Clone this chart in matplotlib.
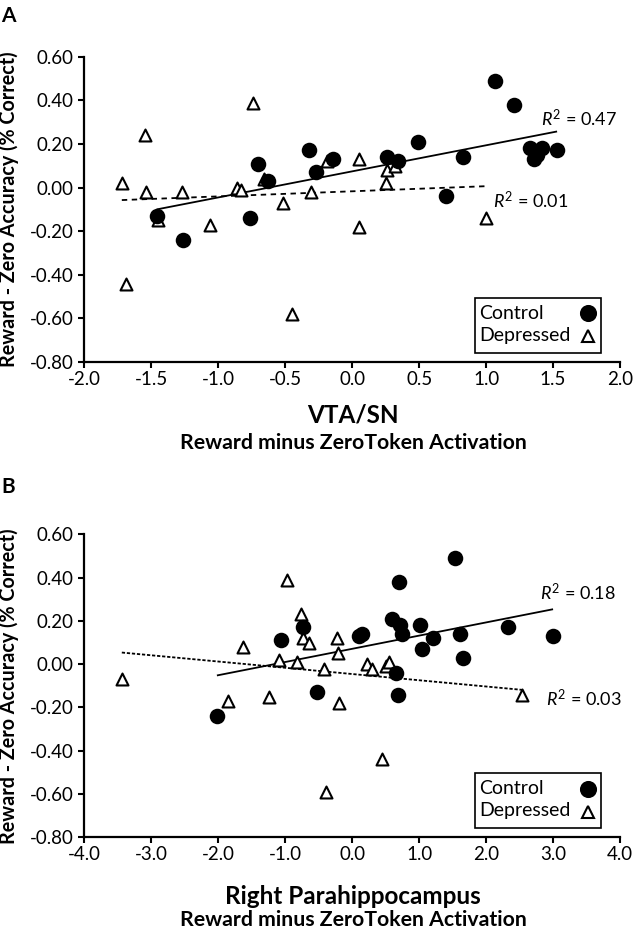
import numpy as np
import matplotlib
matplotlib.use("Agg")
import matplotlib.pyplot as plt
from matplotlib.patches import Rectangle

plt.rcParams['font.family'] = ['Lato', 'DejaVu Sans']
plt.rcParams['mathtext.fontset'] = 'custom'
plt.rcParams['mathtext.rm'] = 'Lato'
plt.rcParams['mathtext.it'] = 'Lato:italic'

# --- Panel A: VTA/SN ---
ctrl_a_x = [-1.46, -1.26, -0.76, -0.70, -0.63, -0.32, -0.27, -0.14, 0.26, 0.34,
            0.49, 0.70, 0.83, 1.07, 1.21, 1.33, 1.36, 1.38, 1.42, 1.53]
ctrl_a_y = [-0.13, -0.24, -0.14, 0.11, 0.03, 0.17, 0.07, 0.13, 0.14, 0.12,
            0.21, -0.04, 0.14, 0.49, 0.38, 0.18, 0.13, 0.15, 0.18, 0.17]
dep_a_x = [-1.72, -1.69, -1.55, -1.54, -1.45, -1.27, -1.06, -0.86, -0.83, -0.74,
           -0.66, -0.52, -0.45, -0.31, -0.19, 0.05, 0.05, 0.25, 0.26, 0.32, 1.00]
dep_a_y = [0.02, -0.44, 0.24, -0.02, -0.15, -0.02, -0.17, 0.00, -0.01, 0.39,
           0.04, -0.07, -0.58, -0.02, 0.12, 0.13, -0.18, 0.02, 0.08, 0.10, -0.14]

# --- Panel B: Right Parahippocampus ---
ctrl_b_x = [-2.02, -1.07, -0.73, -0.52, 0.10, 0.15, 0.60, 0.66, 0.69, 0.70,
            0.71, 0.74, 1.01, 1.04, 1.21, 1.54, 1.61, 1.65, 2.33, 3.00]
ctrl_b_y = [-0.24, 0.11, 0.17, -0.13, 0.13, 0.14, 0.21, -0.04, -0.14, 0.38,
            0.18, 0.14, 0.18, 0.07, 0.12, 0.49, 0.14, 0.03, 0.17, 0.13]
dep_b_x = [-3.44, -1.85, -1.63, -1.24, -1.09, -0.98, -0.83, -0.77, -0.73, -0.65,
           -0.42, -0.39, -0.23, -0.21, -0.19, 0.22, 0.30, 0.50, 0.55, 0.45, 2.54]
dep_b_y = [-0.07, -0.17, 0.08, -0.15, 0.02, 0.39, 0.01, 0.23, 0.12, 0.10,
           -0.02, -0.59, 0.12, 0.05, -0.18, 0.00, -0.02, -0.01, 0.01, -0.44, -0.14]

y_ticks = [0.6, 0.4, 0.2, 0.0, -0.2, -0.4, -0.6, -0.8]
y_tick_labels = ["0.60", "0.40", "0.20", "0.00", "-0.20", "-0.40", "-0.60", "-0.80"]
xa_ticks = [-2.0, -1.5, -1.0, -0.5, 0.0, 0.5, 1.0, 1.5, 2.0]
xa_tick_labels = ["-2.0", "-1.5", "-1.0", "-0.5", "0.0", "0.5", "1.0", "1.5", "2.0"]
xb_ticks = [-4.0, -3.0, -2.0, -1.0, 0.0, 1.0, 2.0, 3.0, 4.0]
xb_tick_labels = ["-4.0", "-3.0", "-2.0", "-1.0", "0.0", "1.0", "2.0", "3.0", "4.0"]

groups = ["Control", "Depressed"]
r2_a = ["0.47", "0.01"]
r2_b = ["0.18", "0.03"]


def fit_line(ax, x, y, **kw):
    x = np.asarray(x)
    m, b = np.polyfit(x, y, 1)
    xs = np.array([x.min(), x.max()])
    ax.plot(xs, m * xs + b, color='black', lw=1.3, zorder=2, **kw)


def draw_legend(ax):
    # boxed legend, labels left, markers lined up on the right
    ax.add_patch(Rectangle((0.729, 0.031), 0.2356, 0.18, transform=ax.transAxes,
                           facecolor='white', edgecolor='black', lw=1.2, zorder=5))
    ax.text(0.737, 0.160, groups[0], transform=ax.transAxes, fontsize=14,
            va='center', ha='left', zorder=6)
    ax.text(0.737, 0.088, groups[1], transform=ax.transAxes, fontsize=14,
            va='center', ha='left', zorder=6)
    ax.plot([0.94], [0.160], transform=ax.transAxes, marker='o', ls='none',
            color='black', markersize=11.3, zorder=6, clip_on=False)
    ax.plot([0.94], [0.085], transform=ax.transAxes, marker='^', ls='none',
            markerfacecolor='white', markeredgecolor='black', markeredgewidth=1.5,
            markersize=8.6, zorder=6, clip_on=False)


def draw_panel(ax, cx, cy, dx, dy, xticks, xlabels, dash_dep):
    fit_line(ax, cx, cy, solid_capstyle='butt')
    fit_line(ax, dx, dy, dashes=dash_dep)
    ax.scatter(dx, dy, marker='^', s=74, facecolor='white', edgecolor='black',
               linewidth=1.5, zorder=3)
    ax.scatter(cx, cy, marker='o', s=125, color='black', linewidth=0, zorder=4)
    ax.set_xlim(xticks[0], xticks[-1])
    ax.set_ylim(-0.8, 0.6)
    ax.set_xticks(xticks)
    ax.set_xticklabels(xlabels)
    ax.set_yticks(y_ticks)
    ax.set_yticklabels(y_tick_labels)
    for s in ['top', 'right']:
        ax.spines[s].set_visible(False)
    for s in ['left', 'bottom']:
        ax.spines[s].set_linewidth(1.6)
    ax.tick_params(direction='out', length=4, width=1.5, labelsize=13.5)
    ax.tick_params(axis='x', pad=2.5)
    ax.tick_params(axis='y', pad=3.5)
    draw_legend(ax)


fig = plt.figure(figsize=(6.33, 9.36), dpi=100)
ax_a = fig.add_axes([0.1332, 0.6132, 0.8463, 0.3262])
ax_b = fig.add_axes([0.1332, 0.1054, 0.8463, 0.3237])

draw_panel(ax_a, ctrl_a_x, ctrl_a_y, dep_a_x, dep_a_y, xa_ticks, xa_tick_labels, (3, 2.5))
draw_panel(ax_b, ctrl_b_x, ctrl_b_y, dep_b_x, dep_b_y, xb_ticks, xb_tick_labels, (1.8, 1.0))

ax_a.text(1.41, 0.316, r'$R^2$ = ' + r2_a[0], fontsize=13, va='center')
ax_a.text(1.05, -0.06, r'$R^2$ = ' + r2_a[1], fontsize=13, va='center')
ax_b.text(2.81, 0.331, r'$R^2$ = ' + r2_b[0], fontsize=13, va='center')
ax_b.text(2.89, -0.159, r'$R^2$ = ' + r2_b[1], fontsize=13, va='center')

ylab = 'Reward - Zero Accuracy (% Correct)'
fig.text(0.0135, 0.7763, ylab, rotation=90, fontweight='bold', fontsize=14.2,
         ha='center', va='center')
fig.text(0.0135, 0.2671, ylab, rotation=90, fontweight='bold', fontsize=14.2,
         ha='center', va='center')

fig.text(0.5577, 0.5566, 'VTA/SN', fontweight='bold', fontsize=17.5, ha='center', va='center')
fig.text(0.5577, 0.5267, 'Reward minus ZeroToken Activation', fontweight='bold',
         fontsize=15.3, ha='center', va='center')
fig.text(0.5577, 0.0417, 'Right Parahippocampus', fontweight='bold', fontsize=17.5,
         ha='center', va='center')
fig.text(0.5577, 0.0171, 'Reward minus ZeroToken Activation', fontweight='bold',
         fontsize=15.3, ha='center', va='center')

fig.text(0.0126, 0.983, 'A', fontweight='bold', fontsize=15, ha='center', va='center')
fig.text(0.0126, 0.4797, 'B', fontweight='bold', fontsize=15, ha='center', va='center')

fig.savefig('out.png', dpi=100)
